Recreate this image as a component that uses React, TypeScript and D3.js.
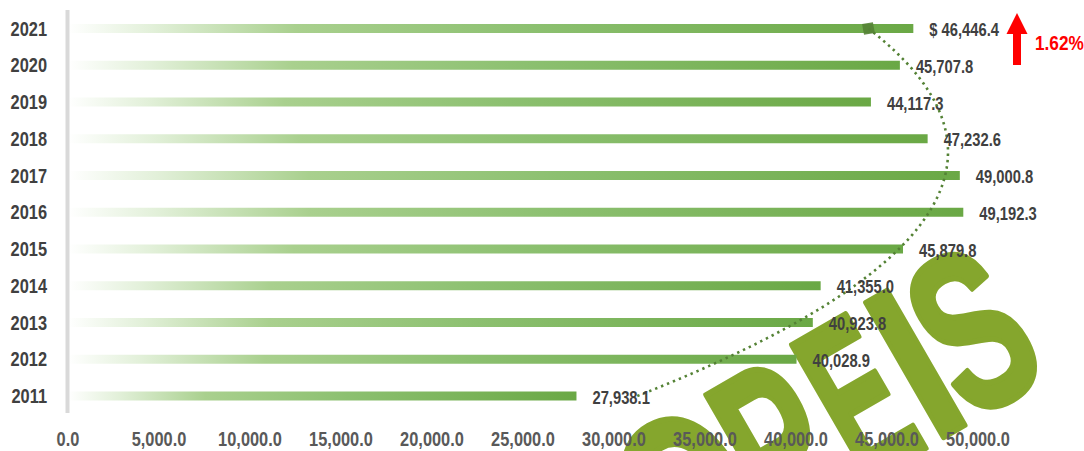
import React from "react";
import * as d3 from "d3";

const years = [2021, 2020, 2019, 2018, 2017, 2016, 2015, 2014, 2013, 2012, 2011];
const values = [46446.4, 45707.8, 44117.3, 47232.6, 49000.8, 49192.3, 45879.8, 41355.0, 40923.8, 40028.9, 27938.1];
const xTicks = [0, 5000, 10000, 15000, 20000, 25000, 30000, 35000, 40000, 45000, 50000];
const changeLabel = "1.62%";
const watermarkLetters = ["O", "P", "E", "I", "S"];

const W = 1084;
const H = 451;
const FONT = "'Liberation Sans', Arial, sans-serif";
const NARROW = 0.82;

// quadratic least squares trendline (like Excel polynomial order 2)
function quadFit(xs: number[], ys: number[]) {
  const n = xs.length;
  let s0 = n, s1 = 0, s2 = 0, s3 = 0, s4 = 0, t0 = 0, t1 = 0, t2 = 0;
  for (let i = 0; i < n; i++) {
    const x = xs[i], y = ys[i];
    s1 += x; s2 += x * x; s3 += x * x * x; s4 += x * x * x * x;
    t0 += y; t1 += x * y; t2 += x * x * y;
  }
  const M = [
    [s0, s1, s2, t0],
    [s1, s2, s3, t1],
    [s2, s3, s4, t2],
  ];
  for (let c = 0; c < 3; c++) {
    for (let r = c + 1; r < 3; r++) {
      const f = M[r][c] / M[c][c];
      for (let k = c; k < 4; k++) M[r][k] -= f * M[c][k];
    }
  }
  const b = [0, 0, 0];
  for (let r = 2; r >= 0; r--) {
    let s = M[r][3];
    for (let k = r + 1; k < 3; k++) s -= M[r][k] * b[k];
    b[r] = s / M[r][r];
  }
  return (x: number) => b[0] + b[1] * x + b[2] * x * x;
}

function NText(props: { x: number; y: number; anchor?: string; size: number; fill: string; children: React.ReactNode }) {
  return (
    <text
      transform={`translate(${props.x},${props.y}) scale(${NARROW},1)`}
      textAnchor={props.anchor || "start"}
      fontSize={props.size}
      fontWeight="bold"
      fill={props.fill}
    >
      {props.children}
    </text>
  );
}

export default function App() {
  const x = d3.scaleLinear().domain([0, 50000]).range([68, 978]);
  const y = d3.scaleLinear().domain([2021, 2011]).range([28.5, 396]);
  const barH = 9;
  const fmt = d3.format(",.1f");

  const ts = years.map((yr) => yr - 2016);
  const fit = quadFit(ts, values);
  const trendPts = d3.range(2011, 2021.001, 0.1).map((yr) => [x(fit(yr - 2016)), y(yr)] as [number, number]);
  const line = d3.line().curve(d3.curveLinear);
  const endPt = [x(fit(5)), y(2021)];

  const wmOffsets = [-264, -163, -69, -2, 64];
  const wmScale = [0.85, 0.74, 0.64, 0.95, 0.78].map((s) => s * NARROW);

  return (
    <svg width={W} height={H} style={{ position: "absolute", left: 0, top: 0 }} fontFamily={FONT}>
      <defs>
        <linearGradient id="barGrad" x1="0" x2="1" y1="0" y2="0">
          <stop offset="0" stopColor="#ffffff" />
          <stop offset="0.1" stopColor="#e2f0d9" />
          <stop offset="0.27" stopColor="#a9d08e" />
          <stop offset="0.55" stopColor="#8cc070" />
          <stop offset="1" stopColor="#6aa845" />
        </linearGradient>
      </defs>

      {/* watermark */}
      <g transform="translate(957,432) rotate(-30)" fill="#85a62d" stroke="#85a62d" strokeWidth={5}
        strokeLinejoin="round" fontWeight="bold" fontSize={226}>
        {watermarkLetters.map((ch, i) => (
          <text key={ch} transform={`translate(${wmOffsets[i]},-2) scale(${wmScale[i]},1)`} textAnchor="middle"
            style={{ vectorEffect: "non-scaling-stroke" } as React.CSSProperties}>
            {ch}
          </text>
        ))}
      </g>

      {/* bars */}
      {years.map((yr, i) => (
        <rect key={yr} x={x(0)} y={y(yr) - barH / 2} width={x(values[i]) - x(0)} height={barH} fill="url(#barGrad)" />
      ))}

      {/* axis line */}
      <rect x={65.5} y={10} width={4} height={403} fill="#d9d9d9" />

      {/* trendline */}
      <path d={line(trendPts) || ""} fill="none" stroke="#548235" strokeWidth={2.6} strokeDasharray="2.4 4" />
      <rect x={endPt[0] - 5.5} y={endPt[1] - 5.5} width={11} height={11} fill="#548235" opacity={0.9}
        transform={`rotate(-10,${endPt[0]},${endPt[1]})`} />

      {/* year labels */}
      {years.map((yr) => (
        <NText key={"y" + yr} x={47} y={y(yr) + 7} anchor="end" size={20} fill="#404040">
          {yr}
        </NText>
      ))}

      {/* value labels */}
      {years.map((yr, i) => (
        <NText key={"v" + yr} x={x(values[i]) + 16} y={y(yr) + 7.5} size={18} fill="#404040">
          {(i === 0 ? "$ " : "") + fmt(values[i])}
        </NText>
      ))}

      {/* x tick labels */}
      {xTicks.map((t) => (
        <NText key={"t" + t} x={x(t)} y={446} anchor="middle" size={20} fill="#595959">
          {fmt(t)}
        </NText>
      ))}

      {/* change indicator */}
      <path d="M1017,13 L1027.5,34 L1021,34 L1021,65 L1013,65 L1013,34 L1006.5,34 Z" fill="#ff0000" />
      <NText x={1035} y={50} size={21} fill="#ff0000">{changeLabel}</NText>
    </svg>
  );
}
